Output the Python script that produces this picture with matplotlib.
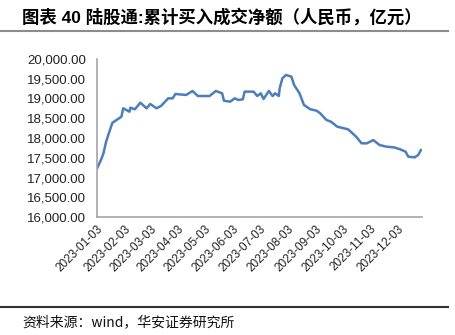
import matplotlib
matplotlib.use("Agg")
import matplotlib.pyplot as plt
import matplotlib.ticker as mticker
from matplotlib.lines import Line2D
import matplotlib.transforms as mtransforms
import pandas as pd

plt.rcParams['font.family'] = ['Liberation Sans', 'Noto Sans CJK SC', 'DejaVu Sans']

dates = ["2023-01-03", "2023-01-08", "2023-01-10", "2023-01-13", "2023-01-16", "2023-01-20",
         "2023-01-30", "2023-02-01", "2023-02-08", "2023-02-09", "2023-02-14", "2023-02-20",
         "2023-02-27", "2023-03-03", "2023-03-10", "2023-03-15", "2023-03-23", "2023-03-28",
         "2023-03-31", "2023-04-12", "2023-04-19", "2023-04-25", "2023-05-08", "2023-05-15",
         "2023-05-22", "2023-05-24", "2023-05-31", "2023-06-05", "2023-06-09", "2023-06-14",
         "2023-06-16", "2023-06-26", "2023-06-30", "2023-07-04", "2023-07-07", "2023-07-13",
         "2023-07-17", "2023-07-20", "2023-07-24", "2023-07-25", "2023-07-28", "2023-08-01",
         "2023-08-07", "2023-08-10", "2023-08-16", "2023-08-21", "2023-08-28", "2023-09-04",
         "2023-09-08", "2023-09-15", "2023-09-20", "2023-09-27", "2023-10-09", "2023-10-12",
         "2023-10-18", "2023-10-24", "2023-10-30", "2023-11-06", "2023-11-13", "2023-11-21",
         "2023-11-29", "2023-12-06", "2023-12-12", "2023-12-15", "2023-12-22", "2023-12-26",
         "2023-12-29"]
values = [17233, 17486, 17612, 17906, 18119, 18387,
          18539, 18752, 18666, 18767, 18727, 18894,
          18752, 18861, 18752, 18810, 19004, 19004,
          19114, 19089, 19190, 19063, 19063, 19190,
          19131, 18944, 18919, 19004, 18962, 18979,
          19173, 19173, 19063, 19131, 18987, 19190,
          19063, 19131, 19063, 19258, 19511, 19595,
          19553, 19342, 19131, 18835, 18727, 18692,
          18625, 18456, 18413, 18287, 18220, 18160,
          18033, 17866, 17866, 17949, 17823, 17780,
          17764, 17714, 17653, 17527, 17511, 17570,
          17696]
tick_dates = ["2023-01-03", "2023-02-03", "2023-03-03", "2023-04-03", "2023-05-03", "2023-06-03",
              "2023-07-03", "2023-08-03", "2023-09-03", "2023-10-03", "2023-11-03", "2023-12-03"]
title = "图表 40 陆股通:累计买入成交净额（人民币，亿元）"
source = "资料来源：wind，华安证券研究所"

x = pd.to_datetime(dates)
ticks = pd.to_datetime(tick_dates)

fig = plt.figure(figsize=(4.56, 3.35), dpi=100)
ax = fig.add_axes([0.213, 0.352, 0.712, 0.472])
ax.plot(x, values, color='#4a7ebf', linewidth=1.8)
ax.set_ylim(16000, 20000)
ax.yaxis.set_major_locator(mticker.MultipleLocator(500))
ax.yaxis.set_major_formatter(mticker.FuncFormatter(lambda v, p: f"{v:,.2f}"))
ax.set_xlim(pd.Timestamp("2023-01-03"), pd.Timestamp("2023-12-30"))
ax.set_xticks(ticks)
ax.set_xticklabels([d.strftime("%Y-%m-%d") for d in ticks], rotation=45, ha='right',
                   rotation_mode='anchor', fontsize=8.5, color='#222222')
offset = mtransforms.ScaledTranslation(6/100, -4/100, fig.dpi_scale_trans)
for lab in ax.get_xticklabels():
    lab.set_transform(lab.get_transform() + offset)
ax.tick_params(axis='y', labelsize=9.5, colors='#222222', length=0, pad=8)
ax.tick_params(axis='x', length=0, pad=4)
for s in ['top', 'right']:
    ax.spines[s].set_visible(False)
for s in ['left', 'bottom']:
    ax.spines[s].set_color('#a6a6a6')
    ax.spines[s].set_linewidth(1.2)

fig.text(22/456, 1 - 17/335, title, fontsize=12.5, fontweight='bold', va='center', ha='left',
         family=['Liberation Sans', 'Noto Sans CJK SC'])
fig.add_artist(Line2D([0, 448/456], [1 - 31/335, 1 - 31/335], color='#8c8c8c', linewidth=1.5,
                      transform=fig.transFigure))
fig.add_artist(Line2D([0, 448/456], [1 - 307/335, 1 - 307/335], color='#333333', linewidth=1.5,
                      transform=fig.transFigure))
fig.text(22/456, 1 - 322/335, source, fontsize=10, va='center', ha='left', color='#111111',
         family=['Noto Sans CJK SC', 'Liberation Sans'])

fig.savefig("out.png", dpi=100)
